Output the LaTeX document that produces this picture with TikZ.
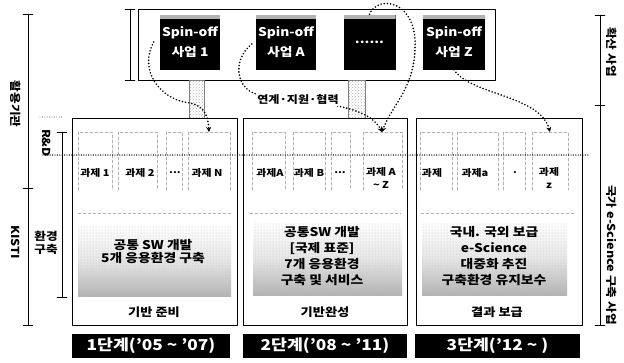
\documentclass[tikz,border=0pt]{standalone}
\usepackage{fontspec}
\setmainfont{Noto Sans CJK KR}[FakeStretch=1.15]
\usetikzlibrary{arrows.meta, calc, patterns, positioning}
\tikzset{
  >={Stealth[length=5pt, width=5pt]},
  every picture/.style={line cap=round, line join=round},
  % boxes
  frame/.style={draw, line width=1pt},
  spinoff/.style={fill=black, text=white, minimum width=60, minimum height=55, inner sep=0pt, align=center,
    font=\fontsize{12}{20}\selectfont\bfseries,
    path picture={\fill[gray!60] (path picture bounding box.north west) rectangle ([yshift=-4pt]path picture bounding box.north east);}},
  pillar/.style={draw=gray, pattern=crosshatch dots, pattern color=gray!60},
  stagebox/.style={draw, line width=1pt, minimum height=207, inner sep=0pt},
  taskbox/.style={draw=gray!60, densely dashed, line width=0.7pt},
  tasklab/.style={font=\fontsize{9.5}{13}\selectfont\bfseries, align=center, inner sep=1pt},
  goalarea/.style={top color=white, bottom color=gray!60, middle color=gray!20,
    postaction={pattern=dots, pattern color=gray!45}},
  goal/.style={font=\fontsize{12}{16}\selectfont\bfseries, align=center},
  stagelab/.style={font=\fontsize{11.5}{13}\selectfont\bfseries},
  phase/.style={fill=black, text=white, minimum height=24, inner sep=0pt, font=\fontsize{15}{17}\selectfont\bfseries},
  % connectors and brackets
  link/.style={line width=1.8pt, dash pattern=on 0pt off 3.2pt, line cap=round},
  sepline/.style={line width=1.4pt, dash pattern=on 0pt off 2.4pt, line cap=round},
  side/.style={font=\fontsize{11}{13}\selectfont\bfseries},
}

\begin{document}
\begin{tikzpicture}[x=1pt, y=-1pt]
  \useasboundingbox (0,0) rectangle (624,362);
  % spin-off row
  \draw[frame] (138,9) rectangle (495,80);
  \node[spinoff] (s1) at (190,42) {Spin-off\\사업 1};
  \node[spinoff] (sA) at (286,42) {Spin-off\\사업 A};
  \node[spinoff, minimum width=52] (sdots) at (369.5,42) {......};
  \node[spinoff, minimum width=62] (sZ) at (454,42) {Spin-off\\사업 Z};
  \draw[pillar] (189,80) rectangle (204,118);
  \draw[pillar] (348,80) rectangle (365,118);
  % three stages
  \node[stagebox, minimum width=165] (st1) at (154.5,221.5) {};
  \node[stagebox, minimum width=164] (st2) at (325,221.5) {};
  \node[stagebox, minimum width=166] (st3) at (499,221.5) {};
  \draw[taskbox] (78,190) |- (112,132) -- (112,190) (118,190) |- (157,132) -- (157,190)
    (166,190) |- (182,132) -- (182,190) (188,190) |- (230,132) -- (230,190);
  \draw[taskbox] (252,190) |- (285,132) -- (285,190) (293,190) |- (325,132) -- (325,190)
    (331,190) |- (350,132) -- (350,190) (363,190) |- (402,132) -- (402,190);
  \draw[taskbox] (420,190) |- (452,132) -- (452,190) (457,190) |- (498,132) -- (498,190)
    (503,190) |- (525,132) -- (525,190) (532,190) |- (568,132) -- (568,190);
  \coordinate (kN) at (209,132);
  \coordinate (kAZ) at (382,132);
  \coordinate (kz) at (550,132);
  \draw[sepline] (43,155) -- (590,155);
  \draw[sepline, line width=0.8pt] (40,117) -- (62,117);
  \draw[gray!60, densely dashed, thin] (78,213) -- (231,213) (250,213) -- (401,213) (421,213) -- (576,213);
  \node[tasklab] (p11) at (95,173) {과제 1};
  \node[tasklab] (p12) at (140,173) {과제 2};
  \node[tasklab] (p13) at (175,173) {...};
  \node[tasklab] (p1n) at (207,173) {과제 N};
  \node[tasklab] (p21) at (270,173) {과제A};
  \node[tasklab] (p22) at (309,173) {과제 B};
  \node[tasklab] (p23) at (340,173) {...};
  \node[tasklab, anchor=north] (p2n) at (381,166) {과제 A\\\textasciitilde{} Z};
  \node[tasklab] (p31) at (432,173) {과제};
  \node[tasklab] (p32) at (475,173) {과제a};
  \node[tasklab] (p33) at (515,173) {.};
  \node[tasklab, anchor=north] (p3n) at (549,166) {과제\\z};
  % goals of each stage
  \path[goalarea] (78,226) rectangle (231,296);
  \path[goalarea] (253,222) rectangle (402,295);
  \path[goalarea] (422,222) rectangle (567,295);
  \node[goal, font=\fontsize{12}{13}\selectfont\bfseries] (g1) at (153,252) {공통 SW 개발\\5개 응용환경 구축};
  \node[goal] (g2) at (322,256) {공통SW 개발\\{}[국제 표준]\\7개 응용환경\\구축 및 서비스};
  \node[goal] (g3) at (494,256) {국내. 국외 보급\\e-Science\\대중화 추진\\구축환경 유지보수};
  \node[stagelab] (b1) at (154,312) {기반 준비};
  \node[stagelab] (b2) at (325,312) {기반완성};
  \node[stagelab] (b3) at (497,312) {결과 보급};
  \node[phase, minimum width=158] (ph1) at (151,346) {1단계('05 \textasciitilde{} '07)};
  \node[phase, minimum width=164] (ph2) at (325,346) {2단계('08 \textasciitilde{} '11)};
  \node[phase, minimum width=165] (ph3) at (497.5,346) {3단계('12 \textasciitilde{} )};
  % spin-off links
  \draw[link, ->] ($(s1.west)+(-6,0)$) .. controls (138,70) and (160,100) .. (190,103)
    .. controls (204,106) and (208,115) .. (kN);
  \draw[link, ->] ($(sA.west)+(-4,2)$) .. controls (232,60) and (236,88) .. (256,94)
    .. controls (300,104) and (365,100) .. (kAZ);
  \draw[link, ->] (sdots.north) .. controls (378,-6) and (418,0) .. (415,50)
    .. controls (413,90) and (392,105) .. (kAZ);
  \draw[link, ->] (sZ.south) .. controls (470,95) and (540,95) .. (kz);
  \node[fill=white, inner sep=1pt, font=\fontsize{10.5}{12}\selectfont\bfseries] (coop) at (298,100) {연계·지원·협력};
  % brackets at the sides
  \draw[thin] (23,14) -- (33,14) (28,14) -- (28,325) (23,188) -- (33,188) (23,325) -- (33,325);
  \draw[thin] (57,132) -- (67,132) (62,132) -- (62,297) (57,297) -- (67,297);
  \draw[thin] (125,9) -- (135,9) (130,9) -- (130,80) (125,80) -- (135,80);
  \draw[thin] (595,15) -- (605,15) (600,15) -- (600,325) (595,105) -- (605,105) (595,325) -- (605,325);
  \node[side, rotate=-90] (usr) at (16,104) {활용기관};
  \node[side, rotate=-90] (kisti) at (16,242) {KISTI};
  \node[side, rotate=-90] (rnd) at (47,143) {R\&D};
  \node[side, align=center] (env) at (46,243) {환경\\구축};
  \node[side, rotate=-90] (diff) at (612,52) {확산 사업};
  \node[side, rotate=-90] (nat) at (612,255) {국가 e-Science 구축 사업};
\end{tikzpicture}
\end{document}
